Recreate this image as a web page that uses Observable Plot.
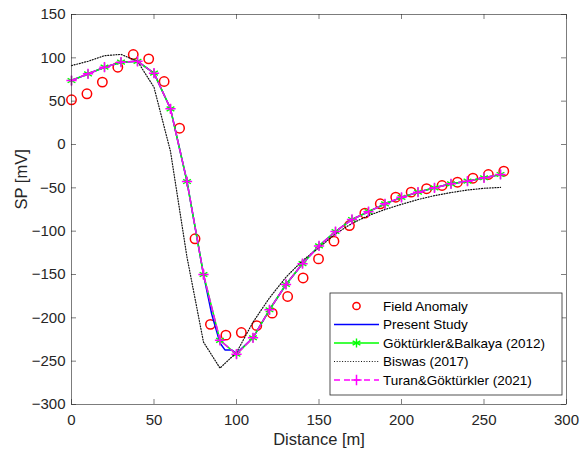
<!DOCTYPE html>
<html><head><meta charset="utf-8">
<script src="https://cdn.jsdelivr.net/npm/d3@7"></script>
<script src="https://cdn.jsdelivr.net/npm/@observablehq/plot@0.6"></script>
<style>body{margin:0;background:#fff} #chart{width:581px;height:455px}</style>
</head><body><div id="chart"></div>
<script>
// ---- data ----
const fieldX = [0, 9.36, 18.71, 28.07, 37.43, 46.79, 56.14, 65.5, 74.86, 84.21, 93.57, 102.93, 112.29, 121.64, 131, 140.36, 149.71, 159.07, 168.43, 177.79, 187.14, 196.5, 205.86, 215.21, 224.57, 233.93, 243.29, 252.64, 262];
const fieldY = [51.6, 58.5, 72, 89.2, 103.8, 98.8, 72.7, 18.8, -108.8, -207.5, -220, -217, -209, -194.6, -175.4, -154, -132, -111.5, -93.5, -79.2, -68.4, -60.8, -55, -51, -47.3, -43.5, -38.9, -34.6, -30.8];

const presentX = [0, 10, 20, 30, 40, 50, 60, 70, 80, 85, 90, 93, 97, 100, 110, 120, 130, 140, 150, 160, 170, 180, 190, 200, 210, 220, 230, 240, 250, 260];
const presentY = [73.8, 81.5, 89.2, 95, 96, 82.3, 41.2, -42.7, -150, -196, -229, -237, -237, -241, -223, -190.7, -161.5, -137.5, -117, -100.4, -86.5, -77.5, -68.5, -61, -55, -50, -45.4, -42.3, -38.4, -34.6];

const modelX = [0, 10, 20, 30, 40, 50, 60, 70, 80, 90, 100, 110, 120, 130, 140, 150, 160, 170, 180, 190, 200, 210, 220, 230, 240, 250, 260];
const gbY = [73.8, 81.5, 89.2, 95, 96, 82.3, 41.2, -42.7, -150, -226, -242, -223, -190.7, -161.5, -137.5, -117, -100.4, -86.5, -77.5, -68.5, -61, -55, -50, -45.4, -42.3, -38.4, -34.6];
const biswasY = [91, 96, 102.5, 104, 96, 66, -8, -130, -228, -258, -240, -205, -177, -153, -134, -119, -103, -91, -82, -75, -69, -63.5, -59, -55.5, -52.5, -50.5, -49.5];
const turanY = [73.8, 81.5, 89.2, 95, 96, 82.3, 41.2, -42.7, -150, -226, -242, -223, -190.7, -161.5, -137.5, -117, -100.4, -86.5, -77.5, -68.5, -61, -55, -50, -45.4, -42.3, -38.4, -34.6];

const xTicks = [0, 50, 100, 150, 200, 250, 300];
const yTicks = [-300, -250, -200, -150, -100, -50, 0, 50, 100, 150];
const legendLabels = ["Field Anomaly", "Present Study", "Göktürkler&Balkaya (2012)", "Biswas (2017)", "Turan&Göktürkler (2021)"];

// ---- build ----
const W = 581, H = 455, mt = 14, mb = 51, ml = 71, mr = 15;
const iw = W - ml - mr, ih = H - mt - mb, tk = 5;
const axisCol = "#262626";
const font = "'Liberation Sans', Arial, Helvetica, sans-serif";
const dotted = "1,1.7";

const field = fieldX.map((x, i) => ({x, y: fieldY[i]}));
const present = presentX.map((x, i) => ({x, y: presentY[i]}));
const gb = modelX.map((x, i) => ({x, y: gbY[i]}));
const bis = modelX.map((x, i) => ({x, y: biswasY[i]}));
const tur = modelX.map((x, i) => ({x, y: turanY[i]}));

const svg = Plot.plot({
  width: W, height: H,
  marginTop: mt, marginBottom: mb, marginLeft: ml, marginRight: mr,
  x: {domain: [0, 300]},
  y: {domain: [-300, 150]},
  style: {fontFamily: font, fontSize: "15px", color: axisCol, background: "#fff", overflow: "visible"},
  marks: [
    Plot.tickX(xTicks, {x: d => d, insetTop: ih - tk, stroke: axisCol, strokeWidth: 0.6}),
    Plot.tickX(xTicks, {x: d => d, insetBottom: ih - tk, stroke: axisCol, strokeWidth: 0.6}),
    Plot.tickY(yTicks, {y: d => d, insetRight: iw - tk, stroke: axisCol, strokeWidth: 0.6}),
    Plot.tickY(yTicks, {y: d => d, insetLeft: iw - tk, stroke: axisCol, strokeWidth: 0.6}),
    Plot.axisX({ticks: xTicks, tickSize: 0, tickPadding: 10, label: null, fontSize: 15}),
    Plot.axisY({ticks: yTicks, tickSize: 0, tickPadding: 6, label: null, fontSize: 15}),
    Plot.text(["Distance [m]"], {frameAnchor: "bottom", dy: 35, lineAnchor: "middle", fontSize: 16.5, fill: axisCol}),
    Plot.text(["SP [mV]"], {frameAnchor: "left", dx: -50, rotate: -90, lineAnchor: "middle", fontSize: 16.5, fill: axisCol}),
    Plot.dot(field, {x: "x", y: "y", r: 4.7, stroke: "#ff0000", strokeWidth: 1.5, fill: "none"}),
    Plot.line(present, {x: "x", y: "y", stroke: "#0000ff", strokeWidth: 1.5}),
    Plot.line(gb, {x: "x", y: "y", stroke: "#00ff00", strokeWidth: 1.5}),
    Plot.dot(gb, {x: "x", y: "y", symbol: "asterisk", r: 4.2, stroke: "#00ff00", strokeWidth: 1.4}),
    Plot.line(bis, {x: "x", y: "y", stroke: "#111", strokeWidth: 1.2, strokeDasharray: dotted}),
    Plot.line(tur, {x: "x", y: "y", stroke: "#ff00ff", strokeWidth: 1.5, strokeDasharray: "6,4"}),
    Plot.dot(tur, {x: "x", y: "y", symbol: "plus", r: 3.4, stroke: "#ff00ff", strokeWidth: 1.5}),
    Plot.frame({stroke: axisCol, strokeWidth: 0.6})
  ]
});
document.getElementById("chart").appendChild(svg);

// ---- legend (inside axes, bottom right) ----
const lg = d3.select(svg).append("g").attr("font-family", font).attr("font-size", 13.5).attr("text-anchor", "start");
const bx = 330, by = 293, bw = 232, bh = 102;
lg.append("rect").attr("x", bx).attr("y", by).attr("width", bw).attr("height", bh)
  .attr("fill", "#fff").attr("stroke", axisCol).attr("stroke-width", 0.8);
const rowY = i => 306 + i * 18.5;
const lx1 = 334, lx2 = 379, lc = (lx1 + lx2) / 2, tx = 383;
legendLabels.forEach((t, i) => {
  lg.append("text").attr("x", tx).attr("y", rowY(i)).attr("dy", "0.35em").attr("fill", "#000").text(t);
});
lg.append("circle").attr("cx", lc).attr("cy", rowY(0)).attr("r", 3.6).attr("fill", "none").attr("stroke", "#ff0000").attr("stroke-width", 1.5);
lg.append("line").attr("x1", lx1).attr("x2", lx2).attr("y1", rowY(1)).attr("y2", rowY(1)).attr("stroke", "#0000ff").attr("stroke-width", 1.5);
lg.append("line").attr("x1", lx1).attr("x2", lx2).attr("y1", rowY(2)).attr("y2", rowY(2)).attr("stroke", "#00ff00").attr("stroke-width", 1.5);
lg.append("path").attr("d", d3.symbol(d3.symbolAsterisk, Math.PI * 4.2 * 4.2)()).attr("transform", `translate(${lc},${rowY(2)})`).attr("fill", "none").attr("stroke", "#00ff00").attr("stroke-width", 1.4);
lg.append("line").attr("x1", lx1).attr("x2", lx2).attr("y1", rowY(3)).attr("y2", rowY(3)).attr("stroke", "#111").attr("stroke-width", 1.2).attr("stroke-dasharray", dotted);
lg.append("line").attr("x1", lx1).attr("x2", lx2).attr("y1", rowY(4)).attr("y2", rowY(4)).attr("stroke", "#ff00ff").attr("stroke-width", 1.5).attr("stroke-dasharray", "6,4");
lg.append("path").attr("d", d3.symbol(d3.symbolPlus, Math.PI * 3.4 * 3.4)()).attr("transform", `translate(${lc},${rowY(4)})`).attr("fill", "none").attr("stroke", "#ff00ff").attr("stroke-width", 1.5);
</script>
</body></html>
